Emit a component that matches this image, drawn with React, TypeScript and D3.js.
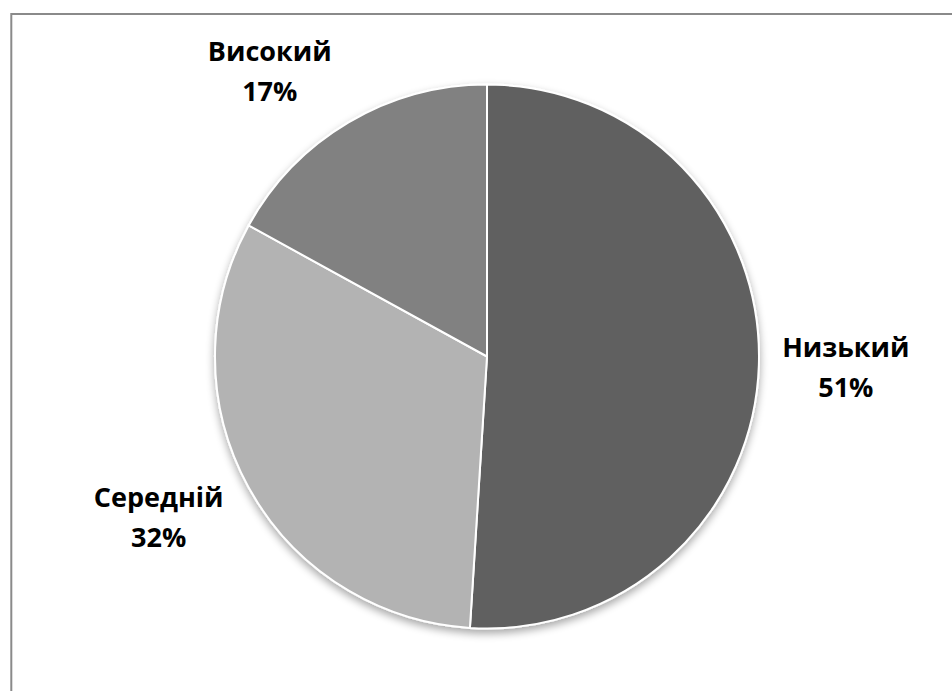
import React from "react";
import * as d3 from "d3";

const categories = ["Низький", "Середній", "Високий"];
const values = [51, 32, 17];
const colors = ["#616161", "#b3b3b3", "#818181"];
// approximate half-widths of the label blocks and small placement nudges
const labelHalfW = [60, 67, 60];
const labelNudgeX = [-3, -5, -33];

const W = 952;
const H = 691;
const cx = 487;
const cy = 356.5;
const R = 272;
const gap = 30;
const halfH = 30;

export default function App() {
  const data = categories.map((c, i) => ({ name: c, value: values[i], color: colors[i], i }));
  const pie = d3.pie<any>().value((d) => d.value).sort(null);
  const arcs = pie(data);
  const arc = d3.arc<any>().innerRadius(0).outerRadius(R);
  const total = d3.sum(values);

  return (
    <svg
      width={W}
      height={H}
      style={{ position: "absolute", left: 0, top: 0, background: "#fff" }}
    >
      <defs>
        <filter id="sh" x="-20%" y="-20%" width="140%" height="140%">
          <feGaussianBlur in="SourceAlpha" stdDeviation="4" />
          <feOffset dx="0" dy="4" result="b" />
          <feComponentTransfer>
            <feFuncA type="linear" slope="0.35" />
          </feComponentTransfer>
          <feMerge>
            <feMergeNode />
            <feMergeNode in="SourceGraphic" />
          </feMerge>
        </filter>
      </defs>
      <rect x={11.3} y={14} width={1000} height={1000} fill="#fff" stroke="#8a8a8a" strokeWidth={2} />
      <g transform={`translate(${cx},${cy})`}>
        <g filter="url(#sh)">
          {arcs.map((a, i) => (
            <path key={i} d={arc(a) as string} fill={a.data.color} stroke="#fff" strokeWidth={2} />
          ))}
        </g>
        {arcs.map((a, i) => {
          const mid = (a.startAngle + a.endAngle) / 2;
          const dx = Math.sin(mid);
          const dy = -Math.cos(mid);
          const ex = dx * R;
          const ey = dy * R;
          const lx = ex + dx * gap + dx * labelHalfW[i] + labelNudgeX[i];
          const ly = ey + dy * gap + dy * halfH;
          return (
            <text
              key={"t" + i}
              textAnchor="middle"
              fontFamily="'Open Sans', 'Noto Sans', sans-serif"
              fontWeight="bold"
              fontSize={27}
              fill="#000"
            >
              <tspan x={lx} y={ly - 9.5}>{a.data.name}</tspan>
              <tspan x={lx} y={ly + 30.5}>{Math.round((a.data.value / total) * 100) + "%"}</tspan>
            </text>
          );
        })}
      </g>
    </svg>
  );
}
